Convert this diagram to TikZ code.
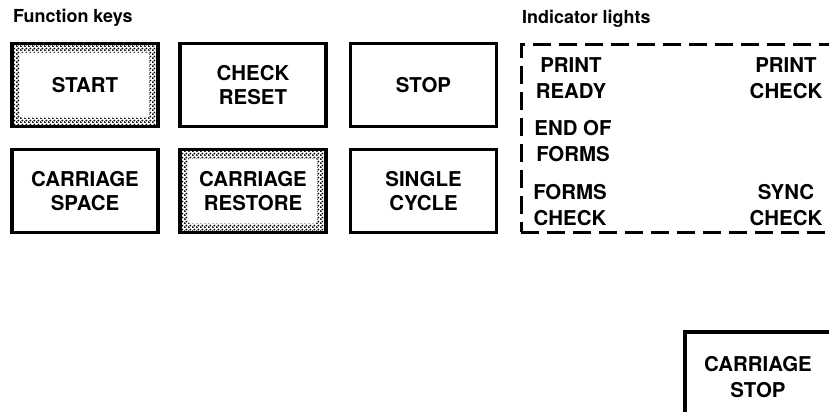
\documentclass[tikz,border=0pt]{standalone}
\usepackage{fontspec}
\setmainfont{TeX Gyre Heros}
\usetikzlibrary{patterns}
% coarse stipple used on the lit keys
\pgfdeclarepatternformonly{stipple}{\pgfpointorigin}{\pgfpoint{4bp}{4bp}}{\pgfpoint{4bp}{4bp}}{%
  \pgfpathcircle{\pgfpoint{1bp}{1bp}}{1.25bp}%
  \pgfpathcircle{\pgfpoint{3bp}{3bp}}{1.25bp}%
  \pgfusepath{fill}}
\begin{document}
\begin{tikzpicture}[x=1bp,y=-1bp,
  heading/.style={anchor=base west,inner sep=0pt,font=\bfseries\fontsize{18}{20}\selectfont},
  keybox/.style={draw,line width=3.2bp,minimum width=146bp,minimum height=83bp,
    align=center,inner sep=0pt,font=\bfseries\fontsize{20.5}{23.5}\selectfont},
  stippled/.style={pattern=stipple,
    path picture={\fill[white,rounded corners=2bp]
      ([shift={(8bp,-9bp)}]path picture bounding box.north west) rectangle
      ([shift={(-9bp,9bp)}]path picture bounding box.south east);}},
  lamp/.style={align=center,inner sep=0pt,font=\bfseries\fontsize{20.5}{26}\selectfont},
  panel/.style={draw,line width=3bp,dash pattern=on 18bp off 8bp,inner sep=0pt}]
\useasboundingbox (0,0) rectangle (829,411);
\clip (0,0) rectangle (829,411);

% headings
\node[heading] (fkeys) at (13,22) {Function keys};
\node[heading] (ilights) at (522,23) {Indicator lights};

% function keys
\node[keybox,stippled] (start)   at (85,85)    {START};
\node[keybox]          (chkrst)  at (253,85)   {CHECK\\RESET};
\node[keybox]          (stop)    at (423.5,85) {STOP};
\node[keybox]          (cspace)  at (85,191)   {CARRIAGE\\SPACE};
\node[keybox,stippled] (crest)   at (253,191)  {CARRIAGE\\RESTORE};
\node[keybox]          (single)  at (423.5,191){SINGLE\\CYCLE};
\node[keybox,minimum width=160bp,minimum height=98bp] (cstop) at (765,381) {};
\node[lamp] (cstoptxt) at (758,377) {CARRIAGE\\STOP};

% indicator light panel
\node[panel,minimum width=324bp,minimum height=188bp] (lights) at (683,138) {};
\node[lamp] (pready) at (571,78)  {PRINT\\READY};
\node[lamp] (pcheck) at (786,78)  {PRINT\\CHECK};
\node[lamp] (eof)    at (573,141) {END OF\\FORMS};
\node[lamp] (fcheck) at (570,205) {FORMS\\CHECK};
\node[lamp] (scheck) at (786,205) {SYNC\\CHECK};
\end{tikzpicture}
\end{document}
